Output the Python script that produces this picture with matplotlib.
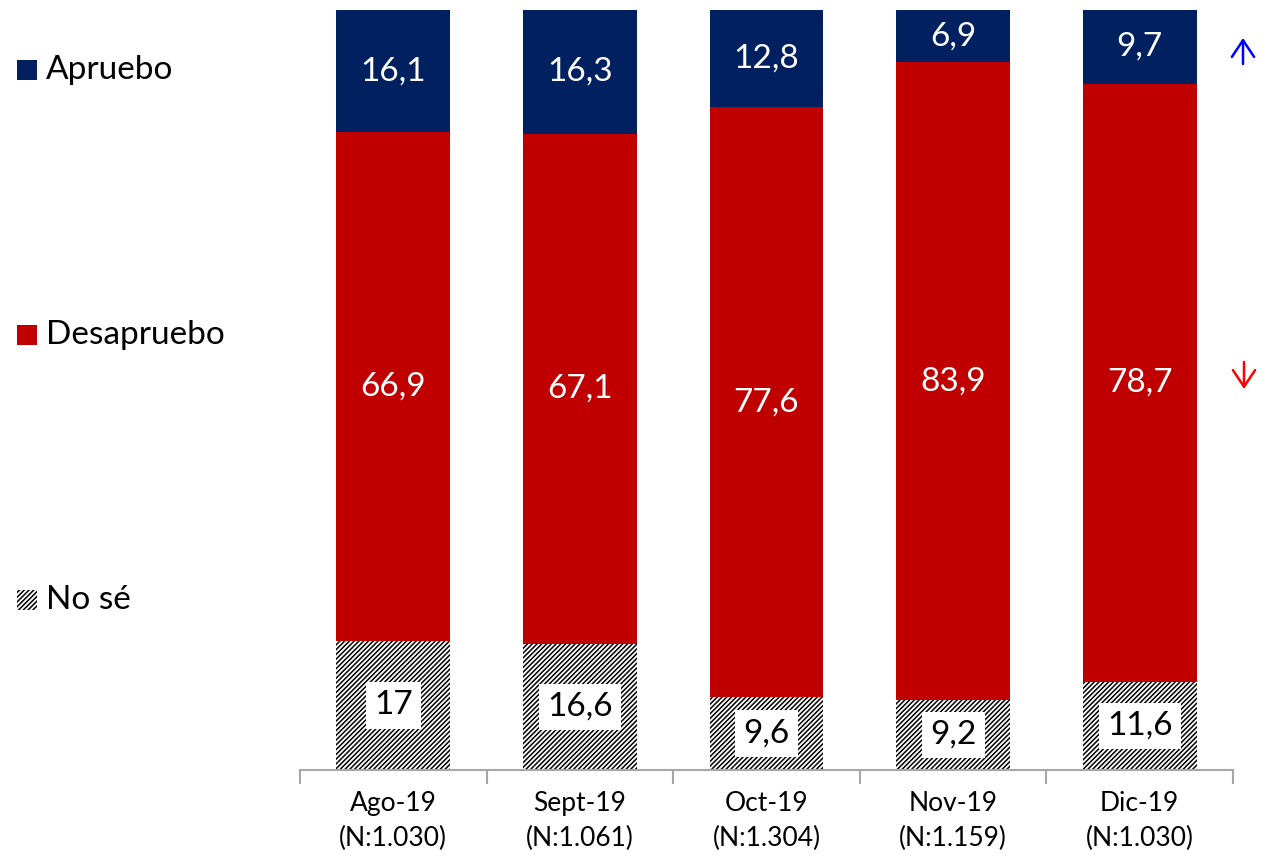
import matplotlib.pyplot as plt
from matplotlib.patches import Rectangle
import numpy as np

plt.rcParams['font.family'] = ['Lato', 'DejaVu Sans']
plt.rcParams['hatch.linewidth'] = 1.1

# Data
months = ["Ago-19", "Sept-19", "Oct-19", "Nov-19", "Dic-19"]
sample = ["(N:1.030)", "(N:1.061)", "(N:1.304)", "(N:1.159)", "(N:1.030)"]
no_se = [17, 16.6, 9.6, 9.2, 11.6]
desapruebo = [66.9, 67.1, 77.6, 83.9, 78.7]
apruebo = [16.1, 16.3, 12.8, 6.9, 9.7]

navy = "#002060"
red = "#C00000"
hatch_pat = "///////"

fig = plt.figure(figsize=(12.81, 8.58), dpi=100)
ax = fig.add_axes([0.2342, 0.1026, 0.9625 - 0.2342, 0.9883 - 0.1026])

x = np.arange(len(months))
w = 0.61
bottom_des = np.array(no_se)
bottom_apr = bottom_des + np.array(desapruebo)

ax.bar(x, no_se, w, color="white", edgecolor="black", hatch=hatch_pat, linewidth=0)
ax.bar(x, desapruebo, w, bottom=bottom_des, color=red, linewidth=0)
ax.bar(x, apruebo, w, bottom=bottom_apr, color=navy, linewidth=0)

def fmt(v):
    s = f"{v:g}"
    return s.replace(".", ",")

for i in x:
    ax.text(i, no_se[i] / 2, fmt(no_se[i]), ha="center", va="center", fontsize=24,
            color="black", bbox=dict(facecolor="white", edgecolor="none", pad=6))
    ax.text(i, bottom_des[i] + desapruebo[i] / 2, fmt(desapruebo[i]), ha="center",
            va="center", fontsize=24, color="white")
    ax.text(i, bottom_apr[i] + apruebo[i] / 2, fmt(apruebo[i]), ha="center",
            va="center", fontsize=24, color="white")

ax.set_xlim(-0.5, len(months) - 0.5)
ax.set_ylim(0, 100)
for s in ["top", "right", "left"]:
    ax.spines[s].set_visible(False)
ax.spines["bottom"].set_color("#A6A6A6")
ax.spines["bottom"].set_linewidth(1.5)
ax.set_yticks([])
ax.set_xticks(np.arange(-0.5, len(months)), minor=False)
ax.set_xticklabels([])
ax.tick_params(axis="x", which="major", length=10, width=1.5, color="#A6A6A6")
ax.set_xticks(x, minor=True)
ax.set_xticklabels([m + "\n" + n for m, n in zip(months, sample)], minor=True,
                   fontsize=19, linespacing=1.5)
ax.tick_params(axis="x", which="minor", length=0, pad=15)

# Legend drawn by hand on the left
legend = [("Apruebo", navy, None, 70), ("Desapruebo", red, None, 335), ("No sé", "white", hatch_pat, 600)]
for name, col, hatch, ypx in legend:
    yf = 1 - ypx / 858
    fig.patches.append(Rectangle((17 / 1281, yf - 10 / 858), 20 / 1281, 20 / 858,
                                 transform=fig.transFigure, facecolor=col,
                                 edgecolor="black" if hatch else "none",
                                 hatch=hatch, linewidth=0))
    fig.text(46 / 1281, yf, name, fontsize=24, va="center", ha="left")

# Trend arrows
arrow_style = "->,head_length=0.6,head_width=0.4"
ax.annotate("", xy=(1243 / 1281, 1 - 38 / 858), xytext=(1243 / 1281, 1 - 64 / 858),
            xycoords="figure fraction", textcoords="figure fraction",
            arrowprops=dict(arrowstyle=arrow_style, color="blue", lw=1.8, mutation_scale=20,
                            shrinkA=0, shrinkB=0))
ax.annotate("", xy=(1244 / 1281, 1 - 389 / 858), xytext=(1244 / 1281, 1 - 362 / 858),
            xycoords="figure fraction", textcoords="figure fraction",
            arrowprops=dict(arrowstyle=arrow_style, color="red", lw=1.8, mutation_scale=20,
                            shrinkA=0, shrinkB=0))

fig.savefig("out.png", dpi=100)
